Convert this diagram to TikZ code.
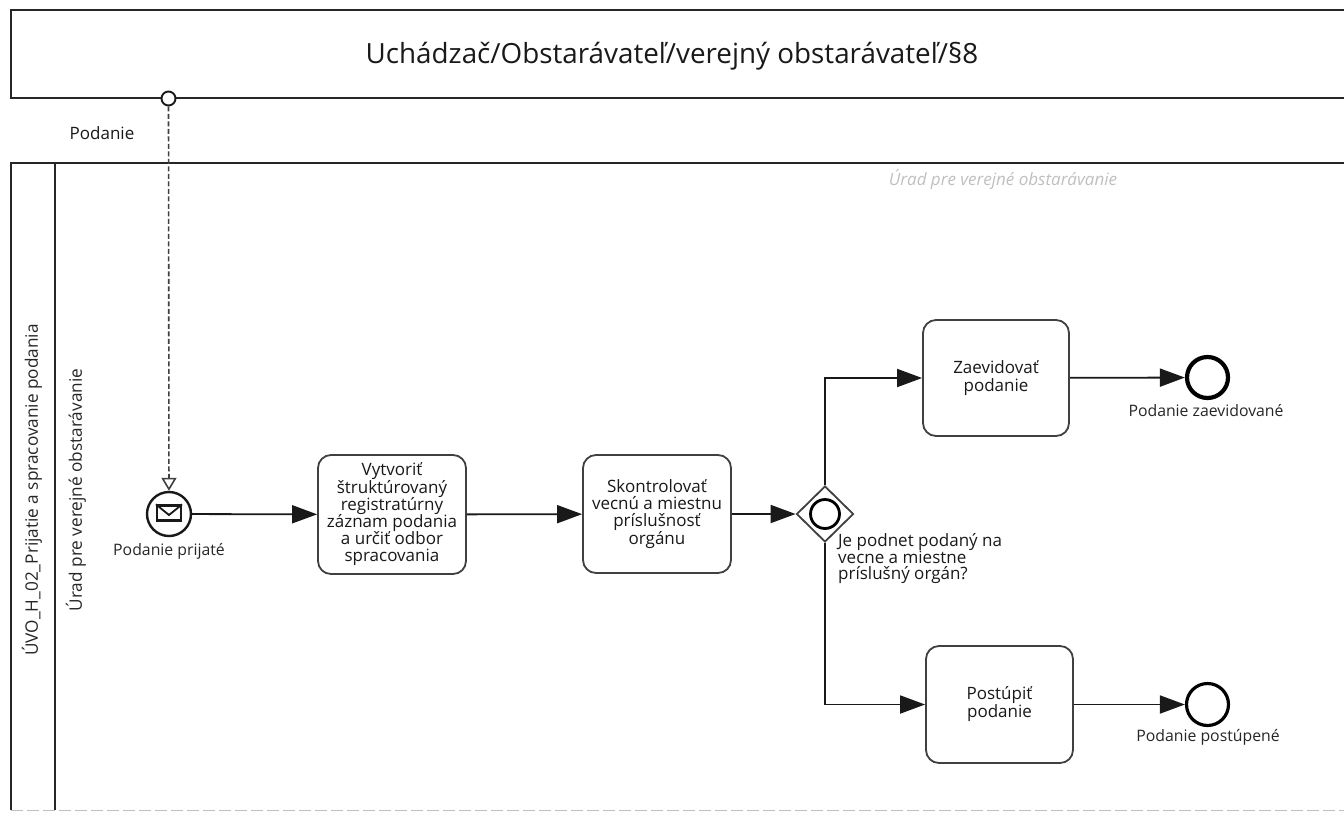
\documentclass[tikz,border=0pt]{standalone}
\usepackage{fontspec}
\setmainfont{Open Sans}
\usetikzlibrary{arrows.meta,shapes.geometric,calc}
\tikzset{
  x=1pt,y=-1pt,
  lineblk/.style={draw=black!85,line width=1.9pt},
  task/.style={draw=black!75,line width=1.8pt,rounded corners=13pt,fill=white,inner sep=0pt,align=center,font=\fontsize{17}{16.8}\selectfont,text=black!90},
  flow/.style={draw=black!90,line width=1.8pt,-{Triangle[length=25pt,width=18pt,fill=black!90]}},
  msg/.style={draw=black!75,line width=1.6pt,dash pattern=on 5pt off 2.5pt,-{Triangle[open,length=13pt,width=15pt,fill=white]}},
  evlabel/.style={font=\fontsize{15.8}{18}\selectfont,inner sep=0pt,text=black!85},
  endev/.style={circle,draw=black,line width=4.2pt,minimum size=41pt,inner sep=0pt,fill=white},
  lanetxt/.style={rotate=90,inner sep=0pt,font=\fontsize{17.2}{20}\selectfont,text=black!85}
}
\begin{document}
\begin{tikzpicture}
\useasboundingbox (0,0) rectangle (1344,812);
% pool
\draw[lineblk] (1344,10) -- (11,10) -- (11,98) -- (1344,98);
\node[inner sep=0pt,font=\fontsize{27.8}{32}\selectfont,text=black!90] (pooltitle) at (672,56) {Uchádzač/Obstarávateľ/verejný obstarávateľ/§8};
% lane
\draw[lineblk] (1344,163) -- (11,163) -- (11,810);
\draw[lineblk] (55,163) -- (55,810);
\draw[draw=black!25,line width=1pt,dash pattern=on 12pt off 4pt] (11,810) -- (1344,810);
\node[lanetxt] (lane1) at (32,490) {ÚVO\_H\_02\_Prijatie a spracovanie podania};
\node[lanetxt] (lane2) at (76,490) {Úrad pre verejné obstarávanie};
\node[inner sep=0pt,font=\itshape\fontsize{17}{20}\selectfont,text=black!25] (watermark) at (1003,180) {Úrad pre verejné obstarávanie};
\node[inner sep=0pt,font=\fontsize{17}{20}\selectfont,text=black!90] (podanie) at (102,133) {Podanie};
% events
\node[circle,draw=black!90,line width=1.9pt,fill=white,minimum size=14pt,inner sep=0pt] (port) at (168.5,98.5) {};
\node[circle,draw=black!90,line width=2.4pt,fill=white,minimum size=44pt,inner sep=0pt] (start) at (169,514) {};
\node[draw=black!90,line width=2.2pt,minimum width=24pt,minimum height=15pt,inner sep=0pt,fill=white] (env) at (169,513) {};
\draw[draw=black!90,line width=1.8pt] (env.north west) -- ($(env.center)+(0,2)$) -- (env.north east);
\node[evlabel] (startl) at (169,551) {Podanie prijaté};
% tasks
\node[task,font=\fontsize{17}{17.2}\selectfont,minimum width=148pt,minimum height=119pt] (t1) at (392,514.5) {Vytvoriť\\štruktúrovaný\\registratúrny\\záznam podania\\a určiť odbor\\spracovania};
\node[task,minimum width=148pt,minimum height=118pt] (t2) at (657,514) {Skontrolovať\\vecnú a miestnu\\príslušnosť\\orgánu};
\node[task,font=\fontsize{17}{18}\selectfont,minimum width=146pt,minimum height=116pt] (t3) at (996,378) {Zaevidovať\\podanie};
\node[task,font=\fontsize{17}{18}\selectfont,minimum width=147pt,minimum height=117pt] (t4) at (999.5,704.5) {Postúpiť\\podanie};
% gateway
\node[diamond,aspect=1,draw=black!75,line width=1.8pt,fill=white,minimum width=57pt,minimum height=56pt,inner sep=0pt] (gw) at (825,514) {};
\node[circle,draw=black,line width=2.8pt,minimum size=29pt,inner sep=0pt] (gwc) at (825,514) {};
\node[anchor=north west,inner sep=0pt,align=left,font=\fontsize{17}{16}\selectfont,text=black!90] (gwl) at (838,533) {Je podnet podaný na\\vecne a miestne\\príslušný orgán?};
% end events
\node[endev] (e1) at (1207.5,377.5) {};
\node[evlabel] (e1l) at (1206,411) {Podanie zaevidované};
\node[endev,line width=3.2pt,minimum size=42pt] (e2) at (1207.5,704.5) {};
\node[evlabel] (e2l) at (1208,737) {Podanie postúpené};
% flows
\draw[msg] (port) -- (start);
\draw[flow] (start) -- (t1);
\draw[flow] (t1) -- (t2);
\draw[flow] (t2) -- (gw);
\draw[flow] (gw.north) |- (t3);
\draw[flow] (gw.south) |- (t4);
\draw[flow] (t3) -- (e1);
\draw[flow] (t4) -- (e2);
\end{tikzpicture}
\end{document}
